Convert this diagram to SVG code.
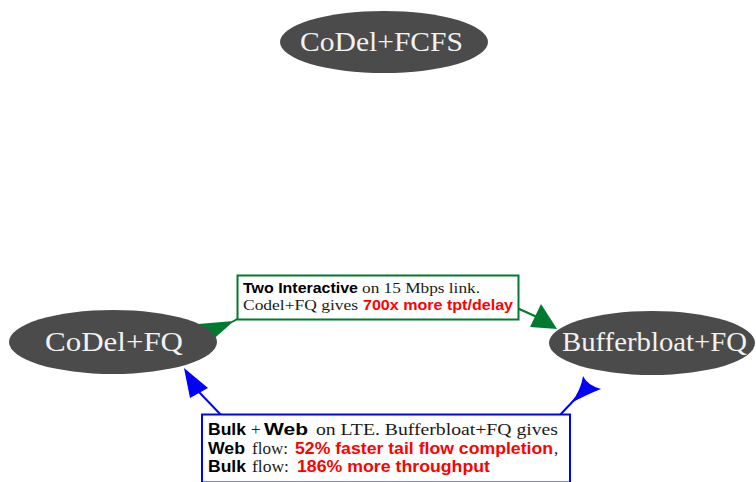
<svg xmlns="http://www.w3.org/2000/svg" width="756" height="482" viewBox="0 0 756 482">
<style>
.node ellipse{fill:#4b4b4b;stroke:none}
.nt{font-family:"Liberation Serif","DejaVu Serif",serif;font-size:27px;fill:#f2f2f2}
.sb{font-family:"Liberation Sans",Arial,sans-serif;font-weight:bold;fill:#000}
.sr{font-family:"Liberation Serif","DejaVu Serif",serif;fill:#1a1a1a}
.red{fill:#ff0000}
.g{font-size:15px}
.b{font-size:17px}
.gbox{fill:#fff;stroke:#007a2e;stroke-width:2}
.bbox{fill:#fff;stroke:#0000ff;stroke-width:2}
.gl{stroke:#007a2e;stroke-width:2;fill:none}
.bl{stroke:#0000ff;stroke-width:2;fill:none}
.gf{fill:#007a2e}
.bf{fill:#0000ff}
</style>
<g id="connectors">
  <line class="gl" x1="232" y1="322" x2="239" y2="318"/>
  <polygon class="gf" points="198,324 234,321 209,343"/>
  <line class="gl" x1="517" y1="308" x2="537" y2="317"/>
  <polygon class="gf" points="541,304 530,327 557,329"/>
  <line class="bl" x1="199" y1="392" x2="221" y2="415"/>
  <polygon class="bf" points="184,368 190,398 208,388"/>
  <line class="bl" x1="576" y1="398" x2="560" y2="415"/>
  <path class="bf" d="M583,376 Q587,385 601,389 Q588,394 571,403 Q581,390 583,376 Z"/>
</g>
<g id="codel-fcfs" class="node">
  <ellipse cx="384" cy="42" rx="104" ry="31"/>
  <text class="nt" x="300" y="51" textLength="163" lengthAdjust="spacingAndGlyphs">CoDel+FCFS</text>
</g>
<g id="codel-fq" class="node">
  <ellipse cx="113" cy="342" rx="104" ry="32"/>
  <text class="nt" x="45" y="351" textLength="138" lengthAdjust="spacingAndGlyphs">CoDel+FQ</text>
</g>
<g id="bufferbloat-fq" class="node">
  <ellipse cx="652" cy="343" rx="103" ry="32"/>
  <text class="nt" x="562" y="351" textLength="185" lengthAdjust="spacingAndGlyphs">Bufferbloat+FQ</text>
</g>
<g id="label-interactive">
  <rect class="gbox" x="237.5" y="275.5" width="281" height="44"/>
  <text class="sb g" x="243" y="293" textLength="115" lengthAdjust="spacingAndGlyphs">Two Interactive</text>
  <text class="sr g" x="362" y="293" textLength="118" lengthAdjust="spacingAndGlyphs">on 15 Mbps link.</text>
  <text class="sr g" x="243" y="310" textLength="115" lengthAdjust="spacingAndGlyphs">Codel+FQ gives</text>
  <text class="sb g red" x="363" y="310" textLength="150" lengthAdjust="spacingAndGlyphs">700x more tpt/delay</text>
</g>
<g id="label-bulk-web">
  <rect class="bbox" x="202" y="414.5" width="368" height="68"/>
  <text class="sb b" x="208" y="435" textLength="38" lengthAdjust="spacingAndGlyphs">Bulk</text>
  <text class="sr b" x="251" y="435" font-size="19">+</text>
  <text class="sb b" x="264" y="435" textLength="44" lengthAdjust="spacingAndGlyphs">Web</text>
  <text class="sr b" x="316" y="435" textLength="242" lengthAdjust="spacingAndGlyphs">on LTE. Bufferbloat+FQ gives</text>
  <text class="sb b" x="208" y="454" textLength="37" lengthAdjust="spacingAndGlyphs">Web</text>
  <text class="sr b" x="252" y="454" textLength="36" lengthAdjust="spacingAndGlyphs">flow:</text>
  <text class="sb b red" x="295" y="454" textLength="258" lengthAdjust="spacingAndGlyphs">52% faster tail flow completion</text>
  <text class="sr b" x="554" y="454">,</text>
  <text class="sb b" x="208" y="472" textLength="38" lengthAdjust="spacingAndGlyphs">Bulk</text>
  <text class="sr b" x="252" y="472" textLength="37" lengthAdjust="spacingAndGlyphs">flow:</text>
  <text class="sb b red" x="297" y="472" textLength="193" lengthAdjust="spacingAndGlyphs">186% more throughput</text>
</g>
</svg>
